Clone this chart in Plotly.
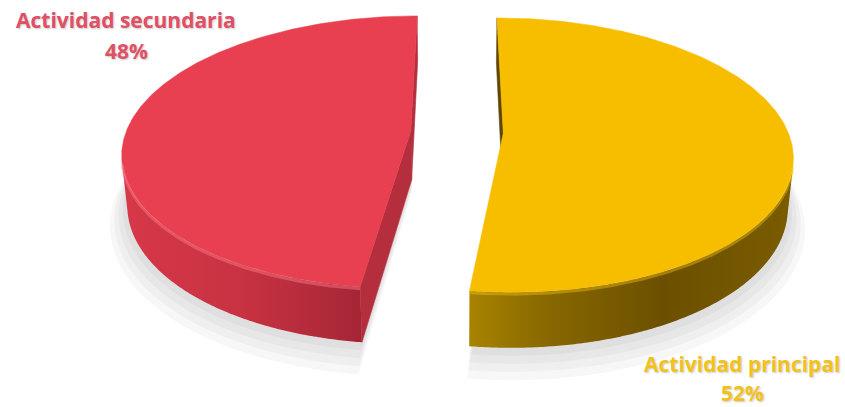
import numpy as np
import plotly.graph_objects as go

# Chart data
labels = ["Actividad principal", "Actividad secundaria"]
values = [52, 48]
top_colors = ["#F7BE00", "#E84050"]
side_scales = [
    [[0, "#A88300"], [0.25, "#876700"], [0.6, "#6C5000"], [1, "#7A5C00"]],
    [[0, "#D63848"], [0.5, "#C83242"], [0.85, "#B02A3A"], [1, "#A52535"]],
]
cut_colors = ["#5E4700", "#B52E3D"]
edge_colors = ["rgba(250,200,20,0.4)", "rgba(255,125,140,0.45)"]
label_colors = ["#F2C21A", "#DF4F66"]
# (x, y of name line, y of percentage line)
label_pos = [(742, 364, 393), (126, 20, 51)]

# 3D pie geometry and a simple pinhole camera
W, H = 845, 407
explode = 0.1625
thick = 0.20
elev = np.radians(27.9)
cs, sn = np.cos(elev), np.sin(elev)
L = 5.6
F = 1595.0
X0, Y0 = 457.0, 132.0


def proj(x, y, z):
    x, y, z = np.asarray(x, float), np.asarray(y, float), np.asarray(z, float)
    depth = L + y * cs - z * sn
    up = y * sn + z * cs
    return X0 + F * x / depth, Y0 - F * up / depth


def poly(pts3):
    xs, ys = proj(*pts3)
    return list(xs) + [xs[0]], list(ys) + [ys[0]]


total = float(sum(values))
fig = go.Figure()

slices = []
a = 90.0
for v in values:
    span = 360.0 * v / total
    a0, a1 = a, a - span  # clockwise from 12 o'clock
    mid = np.radians((a0 + a1) / 2)
    ox, oy = explode * np.cos(mid), explode * np.sin(mid)
    slices.append((np.radians(a0), np.radians(a1), ox, oy))
    a = a1

# soft shadow beneath each piece
for a0, a1, ox, oy in slices:
    phi = np.linspace(a0, a1, 200)
    for k in range(1, 5):
        r = 1 + 0.014 * k
        z = -thick - 0.012 * k
        xs = np.concatenate([[ox], ox + r * np.cos(phi)])
        ys = np.concatenate([[oy], oy + r * np.sin(phi) - 0.01 * k])
        px, py = poly((xs, ys, np.full_like(xs, z)))
        fig.add_trace(go.Scatter(x=px, y=py, fill="toself", mode="none",
                                 fillcolor="rgba(60,60,60,0.04)",
                                 hoverinfo="skip", showlegend=False))

cam = np.array([0.0, -L * cs, L * sn])

for i, (a0, a1, ox, oy) in enumerate(slices):
    # flat cut faces along the radii
    for ang, nrm in ((a0, (-np.sin(a0), np.cos(a0))), (a1, (np.sin(a1), -np.cos(a1)))):
        if (cam[0] - ox) * nrm[0] + (cam[1] - oy) * nrm[1] > 0:
            xs = [ox, ox + np.cos(ang), ox + np.cos(ang), ox]
            ys = [oy, oy + np.sin(ang), oy + np.sin(ang), oy]
            zs = [0, 0, -thick, -thick]
            px, py = poly((xs, ys, zs))
            fig.add_trace(go.Scatter(x=px, y=py, fill="toself", mode="lines",
                                     line=dict(color=cut_colors[i], width=0.5),
                                     fillcolor=cut_colors[i],
                                     hoverinfo="skip", showlegend=False))

    # outer curved wall, only where it faces the camera
    phi = np.linspace(a0, a1, 400)
    vis = (-ox * np.cos(phi) - 1 - (L * cs + oy) * np.sin(phi)) > 0
    pv = phi[vis]
    if len(pv) > 1:
        xs = np.concatenate([ox + np.cos(pv), ox + np.cos(pv[::-1])])
        ys = np.concatenate([oy + np.sin(pv), oy + np.sin(pv[::-1])])
        zs = np.concatenate([np.zeros(len(pv)), np.full(len(pv), -thick)])
        px, py = poly((xs, ys, zs))
        fig.add_trace(go.Scatter(x=px, y=py, fill="toself", mode="none",
                                 fillgradient=dict(type="horizontal",
                                                   colorscale=side_scales[i]),
                                 hoverinfo="skip", showlegend=False))

    # top face
    xs = np.concatenate([[ox], ox + np.cos(phi)])
    ys = np.concatenate([[oy], oy + np.sin(phi)])
    px, py = poly((xs, ys, np.zeros_like(xs)))
    fig.add_trace(go.Scatter(x=px, y=py, fill="toself", mode="lines",
                             line=dict(color=top_colors[i], width=0.5),
                             fillcolor=top_colors[i], name=labels[i],
                             hoverinfo="name", showlegend=False))

    # soft rounded bevel along the front rim
    if len(pv) > 1:
        ex, ey = proj(ox + np.cos(pv), oy + np.sin(pv), np.full(len(pv), -0.007))
        fig.add_trace(go.Scatter(x=ex, y=ey, mode="lines",
                                 line=dict(color=edge_colors[i], width=3),
                                 hoverinfo="skip", showlegend=False))

# data labels: category name with its share below
for i in range(len(values)):
    pct = round(100 * values[i] / total)
    x, y_name, y_pct = label_pos[i]
    for txt, y in ((labels[i], y_name), (f"{pct}%", y_pct)):
        fig.add_annotation(x=x, y=y, xref="x", yref="y",
                           text=f"<b>{txt}</b>", showarrow=False,
                           xanchor="center", yanchor="middle",
                           font=dict(family="Open Sans", size=21,
                                     color=label_colors[i],
                                     shadow="1px 1px 2px rgba(0,0,0,0.22)"))

fig.update_xaxes(range=[0, W], visible=False, fixedrange=True)
fig.update_yaxes(range=[H, 0], visible=False, fixedrange=True)
fig.update_layout(width=W, height=H, autosize=False,
                  margin=dict(l=0, r=0, t=0, b=0),
                  paper_bgcolor="white", plot_bgcolor="white",
                  showlegend=False)

fig.write_html("out.html")
